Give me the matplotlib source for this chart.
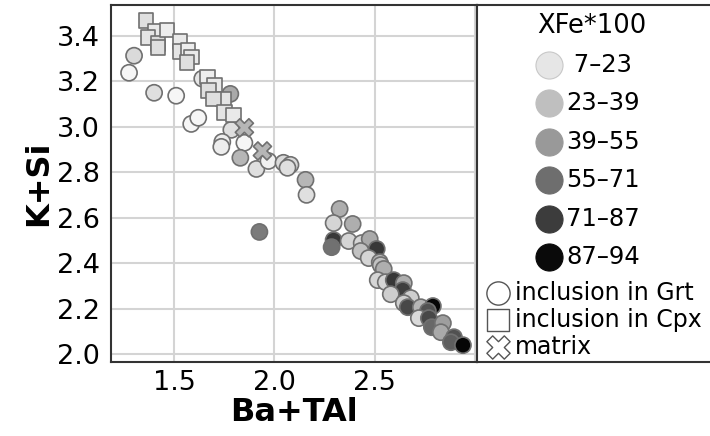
import numpy as np
import matplotlib
matplotlib.use('Agg')
import matplotlib.pyplot as plt
from matplotlib.colors import LinearSegmentedColormap, Normalize

# Inclusions in garnet (circles): Ba+TAl, K+Si, XFe*100
grt_x = [1.275, 1.30, 1.40, 1.51, 1.585, 1.62, 1.64, 1.78, 1.785, 1.74, 1.735, 1.85,
         1.83, 1.91, 1.97, 2.045, 2.08, 2.065, 2.155, 2.16, 1.925,
         2.325, 2.295, 2.39, 2.295, 2.285, 2.37, 2.435, 2.475, 2.51, 2.43, 2.47,
         2.525, 2.53, 2.545, 2.515, 2.555, 2.595, 2.645, 2.64, 2.58, 2.68, 2.645,
         2.665, 2.73, 2.79, 2.765, 2.72, 2.77, 2.785, 2.84, 2.83, 2.895, 2.88, 2.94]
grt_y = [3.237, 3.312, 3.149, 3.136, 3.012, 3.039, 3.211, 3.144, 2.986, 2.933, 2.911, 2.929,
         2.863, 2.814, 2.849, 2.841, 2.832, 2.819, 2.766, 2.70, 2.537,
         2.638, 2.576, 2.572, 2.501, 2.47, 2.497, 2.488, 2.506, 2.462, 2.453, 2.422,
         2.404, 2.391, 2.374, 2.325, 2.316, 2.325, 2.312, 2.281, 2.263, 2.246, 2.224,
         2.206, 2.206, 2.211, 2.189, 2.158, 2.158, 2.118, 2.136, 2.096, 2.074, 2.052, 2.039]
grt_xfe = [8, 20, 18, 8, 8, 8, 15, 40, 18, 12, 12, 8,
           35, 18, 10, 20, 20, 18, 35, 18, 58,
           38, 22, 38, 80, 62, 22, 22, 40, 80, 30, 22,
           35, 30, 38, 22, 22, 80, 38, 78, 25, 25, 25,
           75, 35, 92, 72, 20, 75, 65, 45, 40, 72, 68, 92]

# Inclusions in clinopyroxene (squares)
cpx_x = [1.36, 1.405, 1.37, 1.42, 1.42, 1.465, 1.53, 1.53, 1.57, 1.585, 1.565,
         1.665, 1.70, 1.67, 1.745, 1.695, 1.75, 1.795]
cpx_y = [3.466, 3.418, 3.391, 3.365, 3.347, 3.426, 3.374, 3.33, 3.338, 3.307, 3.281,
         3.219, 3.18, 3.158, 3.122, 3.122, 3.061, 3.052]
cpx_xfe = [18, 14, 16, 20, 18, 12, 14, 16, 12, 14, 18,
           12, 14, 18, 16, 18, 16, 14]

# Matrix (crosses)
mtx_x = [1.85, 1.94]
mtx_y = [2.995, 2.893]
mtx_xfe = [35, 35]

# legend classes
xfe_bins = ['7\u201323', '23\u201339', '39\u201355', '55\u201371', '71\u201387', '87\u201394']
bin_mid = [15, 31, 47, 63, 79, 91]
bin_colors = ['#e6e6e6', '#bfbfbf', '#999999', '#6e6e6e', '#3c3c3c', '#0a0a0a']

lo, hi = 7, 94
stops = [(0.0, '#f7f7f7')] + [((m - lo) / (hi - lo), c) for m, c in zip(bin_mid, bin_colors)] + [(1.0, '#000000')]
cmap = LinearSegmentedColormap.from_list('xfe', stops)
norm = Normalize(lo, hi)

W, H = 710, 436
fig = plt.figure(figsize=(W / 100, H / 100), dpi=100)
ax = fig.add_axes([111 / W, 74 / H, 366 / W, 357 / H])

edge = '#707070'
ax.scatter(grt_x, grt_y, c=grt_xfe, cmap=cmap, norm=norm, s=135, marker='o',
           edgecolors=edge, linewidths=1.2, zorder=3)
ax.scatter(cpx_x, cpx_y, c=cpx_xfe, cmap=cmap, norm=norm, s=110, marker='s',
           edgecolors=edge, linewidths=1.2, zorder=4)
ax.scatter(mtx_x, mtx_y, c=mtx_xfe, cmap=cmap, norm=norm, s=170, marker='X',
           edgecolors=edge, linewidths=1.2, zorder=5)

ax.set_xlim(1.185, 3.01)
ax.set_ylim(1.965, 3.535)
ax.set_xticks([1.5, 2.0, 2.5, 3.0])
ax.set_xticklabels(['1.5', '2.0', '2.5', ''])
ax.set_yticks(np.arange(2.0, 3.41, 0.2))
ax.set_yticklabels([f'{v:.1f}' for v in np.arange(2.0, 3.41, 0.2)])
ax.grid(True, color='#d4d4d4', lw=1.5, zorder=0)
ax.tick_params(length=0, labelsize=19.5)
ax.tick_params(axis='x', pad=5.5)
ax.tick_params(axis='y', pad=8)
for s in ax.spines.values():
    s.set_color('#333333')
    s.set_linewidth(1.5)
ax.set_xlabel('Ba+TAl', fontsize=23, fontweight='bold', labelpad=1)
ax.set_ylabel('K+Si', fontsize=23, fontweight='bold', labelpad=2)

# legend panel
lg = fig.add_axes([477 / W, 74 / H, 240 / W, 357 / H])
lg.set_xlim(477, 717)
lg.set_ylim(362, 5)
lg.set_xticks([])
lg.set_yticks([])
for s in lg.spines.values():
    s.set_color('#333333')
    s.set_linewidth(1.5)

lg.text(592, 26, 'XFe*100', fontsize=18.5, ha='center', va='center')
for i, (lab, col) in enumerate(zip(xfe_bins, bin_colors)):
    yy = 65 + i * 38.4
    lg.scatter([549], [yy], s=380, color=col,
               edgecolors='#c8c8c8' if i == 0 else col, linewidths=0.8)
    lg.text(566, yy, (' ' + lab) if i == 0 else lab, fontsize=17.5, va='center', ha='left')

shapes = [('o', 'inclusion in Grt'), ('s', 'inclusion in Cpx'), ('X', 'matrix')]
for i, (m, lab) in enumerate(shapes):
    yy = 293 + i * 27
    lg.scatter([498], [yy], s=280 if m != 's' else 240, marker=m, facecolors='white',
               edgecolors='#555555', linewidths=1.0)
    lg.text(515, yy, lab, fontsize=17, va='center', ha='left')

fig.savefig('out.png', dpi=100)
